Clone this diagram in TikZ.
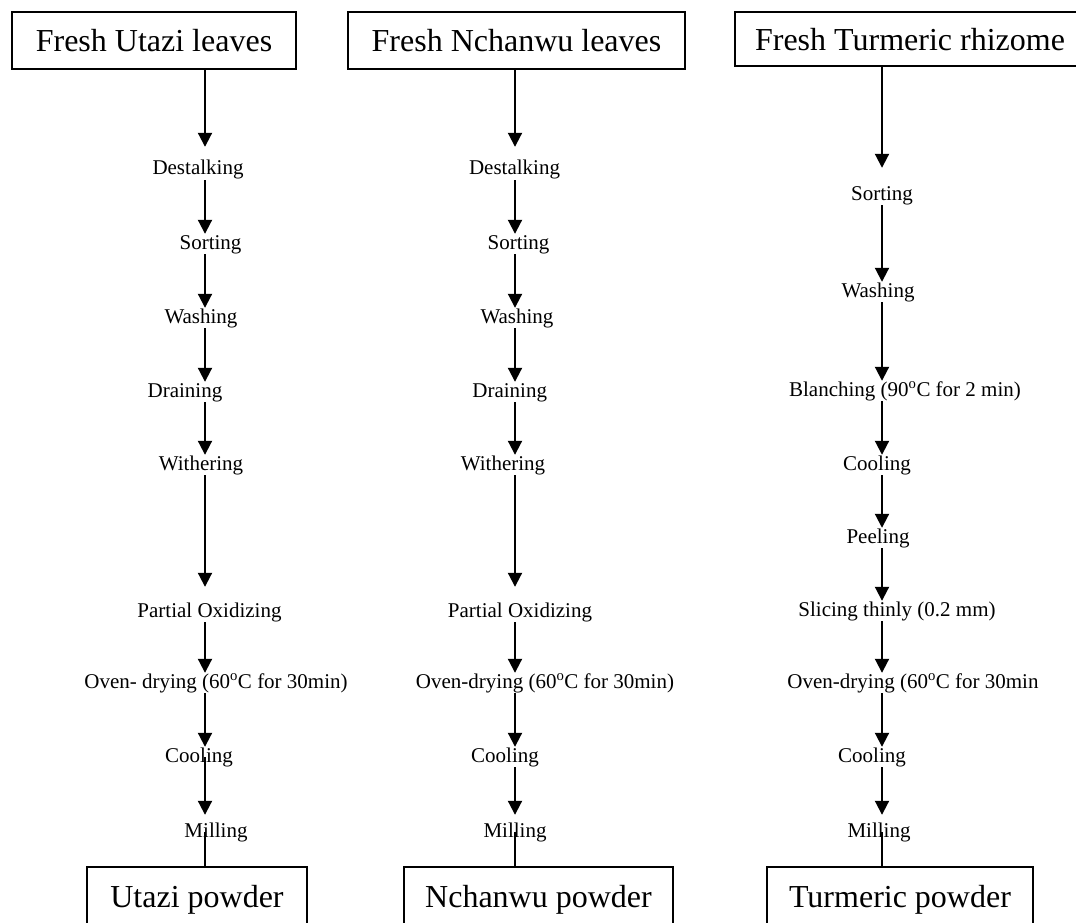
\documentclass[tikz,border=0pt]{standalone}
\usepackage{fontspec}
\setmainfont{Liberation Serif}
\usetikzlibrary{arrows.meta}

\begin{document}
\begin{tikzpicture}[x=1pt,y=-1pt]
            \tikzstyle{box}=[draw,line width=1.3pt,inner sep=0pt,font=\fontsize{32}{36}\selectfont,text height=23pt,text depth=0pt]
            \tikzstyle{stage}=[inner sep=0pt,anchor=base,font=\fontsize{21}{24}\selectfont,text height=15pt,text depth=5pt]
            \tikzstyle{flow}=[line width=2pt,-{Triangle[length=14pt,width=14pt]}]
            \tikzstyle{last}=[line width=1.2pt]
            \clip (0,0) rectangle (1076,923);
            \coordinate (cu) at (205,0);
            \coordinate (cn) at (515,0);
            \coordinate (ct) at (882,0);
            % utazi
            \node[box,minimum width=284pt,minimum height=57pt] (u0) at (154,40.5) {Fresh Utazi leaves};
            \node[stage] (u1) at (198,175) {Destalking};
            \node[stage] (u2) at (210.5,249) {Sorting};
            \node[stage] (u3) at (201,323) {Washing};
            \node[stage] (u4) at (185,397) {Draining};
            \node[stage] (u5) at (201,470) {Withering};
            \node[stage] (u6) at (209.5,617) {Partial Oxidizing};
            \node[stage] (u7) at (216,688) {Oven- drying (60\textsuperscript{o}C for 30min)};
            \node[stage] (u8) at (199,762) {Cooling};
            \node[stage] (u9) at (216,837) {Milling};
            \node[box,minimum width=220pt,minimum height=57pt] (ubox) at (197,895.5) {Utazi powder};
            % nchanwu
            \node[box,minimum width=337pt,minimum height=57pt] (n0) at (516.5,40.5) {Fresh Nchanwu leaves};
            \node[stage] (n1) at (514.5,175) {Destalking};
            \node[stage] (n2) at (518.5,249) {Sorting};
            \node[stage] (n3) at (517,323) {Washing};
            \node[stage] (n4) at (509.7,397) {Draining};
            \node[stage] (n5) at (503,470) {Withering};
            \node[stage] (n6) at (520,617) {Partial Oxidizing};
            \node[stage] (n7) at (545,688) {Oven-drying (60\textsuperscript{o}C for 30min)};
            \node[stage] (n8) at (505,762) {Cooling};
            \node[stage] (n9) at (515,837) {Milling};
            \node[box,minimum width=269pt,minimum height=57pt] (nbox) at (538.5,895.5) {Nchanwu powder};
            % turmeric
            \node[box,minimum width=350pt,minimum height=54pt] (t0) at (910,39) {Fresh Turmeric rhizome};
            \node[stage] (t1) at (882,200) {Sorting};
            \node[stage] (t2) at (878,297) {Washing};
            \node[stage] (t3) at (905,396) {Blanching (90\textsuperscript{o}C for 2 min)};
            \node[stage] (t4) at (877,470) {Cooling};
            \node[stage] (t5) at (878,543) {Peeling};
            \node[stage] (t6) at (897,616) {Slicing thinly (0.2 mm)};
            \node[stage] (t7) at (913,688) {Oven-drying (60\textsuperscript{o}C for 30min};
            \node[stage] (t8) at (872,762) {Cooling};
            \node[stage] (t9) at (879,837) {Milling};
            \node[box,minimum width=266pt,minimum height=57pt] (tbox) at (900,895.5) {Turmeric powder};

            \path (u0.south -| cu) edge[flow,shorten >=13pt] (u1.north -| cu)
                (u1.south -| cu) edge[flow] (u2.north -| cu)
                (u2.south -| cu) edge[flow] (u3.north -| cu)
                (u3.south -| cu) edge[flow] (u4.north -| cu)
                (u4.south -| cu) edge[flow] (u5.north -| cu)
                (u5.south -| cu) edge[flow,shorten >=15pt] (u6.north -| cu)
                (u6.south -| cu) edge[flow] (u7.north -| cu)
                (u7.south -| cu) edge[flow] (u8.north -| cu)
                (u8.center -| cu) edge[flow,shorten >=7pt] (u9.north -| cu)
                (u9.center -| cu) edge[last] (ubox.north -| cu);
            \path (n0.south -| cn) edge[flow,shorten >=13pt] (n1.north -| cn)
                (n1.south -| cn) edge[flow] (n2.north -| cn)
                (n2.south -| cn) edge[flow] (n3.north -| cn)
                (n3.south -| cn) edge[flow] (n4.north -| cn)
                (n4.south -| cn) edge[flow] (n5.north -| cn)
                (n5.south -| cn) edge[flow,shorten >=15pt] (n6.north -| cn)
                (n6.south -| cn) edge[flow] (n7.north -| cn)
                (n7.south -| cn) edge[flow] (n8.north -| cn)
                (n8.south -| cn) edge[flow,shorten >=7pt] (n9.north -| cn)
                (n9.center -| cn) edge[last] (nbox.north -| cn);
            \path (t0.south -| ct) edge[flow,shorten >=17pt] (t1.north -| ct)
                (t1.south -| ct) edge[flow] (t2.north -| ct)
                (t2.south -| ct) edge[flow] (t3.north -| ct)
                (t3.south -| ct) edge[flow] (t4.north -| ct)
                (t4.south -| ct) edge[flow] (t5.north -| ct)
                (t5.south -| ct) edge[flow] (t6.north -| ct)
                (t6.south -| ct) edge[flow] (t7.north -| ct)
                (t7.south -| ct) edge[flow] (t8.north -| ct)
                (t8.south -| ct) edge[flow,shorten >=7pt] (t9.north -| ct)
                (t9.center -| ct) edge[last] (tbox.north -| ct);
        \end{tikzpicture}
\end{document}
